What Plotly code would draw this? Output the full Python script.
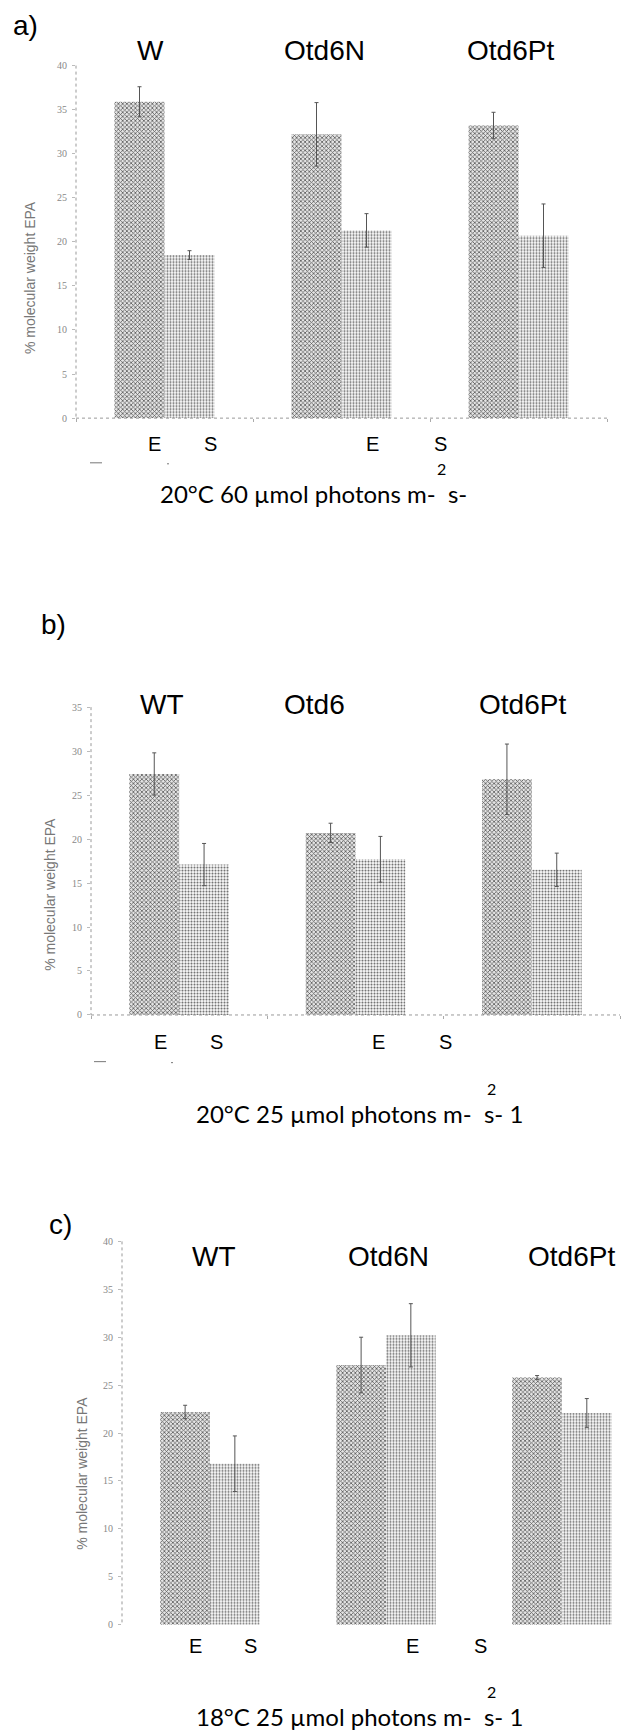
import plotly.graph_objects as go

W, H = 629, 1735

# ---------------- data ----------------
groups_a = ["W", "Otd6N", "Otd6Pt"]
groups_b = ["WT", "Otd6", "Otd6Pt"]
groups_c = ["WT", "Otd6N", "Otd6Pt"]
series_names = ["E", "S"]

a_E = [35.9, 32.2, 33.2]
a_E_err = [1.7, 3.6, 1.5]
a_S = [18.5, 21.3, 20.7]
a_S_err = [0.5, 1.9, 3.6]

b_E = [27.4, 20.7, 26.8]
b_E_err = [2.4, 1.1, 4.0]
b_S = [17.1, 17.7, 16.5]
b_S_err = [2.4, 2.6, 1.9]

c_E = [22.2, 27.1, 25.8]
c_E_err = [0.7, 2.9, 0.2]
c_S = [16.8, 30.2, 22.1]
c_S_err = [2.9, 3.3, 1.5]

yticks_40 = [0, 5, 10, 15, 20, 25, 30, 35, 40]
yticks_35 = [0, 5, 10, 15, 20, 25, 30, 35]

panel_letters = ["a)", "b)", "c)"]
captions = ["20°C 60 µmol photons m-  s-",
            "20°C 25 µmol photons m-  s- 1",
            "18°C 25 µmol photons m-  s- 1"]
y_title = "% molecular weight EPA"


def fx(px):
    return px / W


def fy(py):
    return 1 - py / H


# ---------------- layout geometry (pixels) ----------------
panels = [
    dict(groups=groups_a, E=a_E, Ee=a_E_err, S=a_S, Se=a_S_err,
         x0=76, x1=607, y0=60, y1=415, xr=[-0.5, 2.5], yr=[0, 40], yt=yticks_40, xline=True),
    dict(groups=groups_b, E=b_E, Ee=b_E_err, S=b_S, Se=b_S_err,
         x0=91, x1=620, y0=706, y1=1016, xr=[-0.5, 2.5], yr=[0, 35], yt=yticks_35, xline=True),
    dict(groups=groups_c, E=c_E, Ee=c_E_err, S=c_S, Se=c_S_err,
         x0=122, x1=629, y0=1244, y1=1630, xr=[-0.5, 2.381], yr=[0, 40], yt=yticks_40, xline=False),
]

fig = go.Figure()
layout = dict(
    width=W, height=H,
    margin=dict(l=0, r=0, t=0, b=0),
    paper_bgcolor="white", plot_bgcolor="white",
    showlegend=False,
    barmode="group", bargap=0.435, bargroupgap=0.0,
    font=dict(family="Liberation Sans, Arial, sans-serif", color="black"),
)

shapes = []
annotations = []

for i, p in enumerate(panels):
    xa = "x" if i == 0 else f"x{i+1}"
    ya = "y" if i == 0 else f"y{i+1}"
    xkey = "xaxis" if i == 0 else f"xaxis{i+1}"
    ykey = "yaxis" if i == 0 else f"yaxis{i+1}"

    fig.add_trace(go.Bar(
        x=p["groups"], y=p["E"], name=series_names[0], xaxis=xa, yaxis=ya,
        offsetgroup="E",
        marker=dict(color="white", line=dict(width=0),
                    pattern=dict(shape="x", size=3, solidity=0.45,
                                 fgcolor="#5a5a5a", bgcolor="#e4e4e4", fillmode="replace")),
        error_y=dict(type="data", array=p["Ee"], visible=True,
                     color="#555555", thickness=1, width=2),
    ))
    fig.add_trace(go.Bar(
        x=p["groups"], y=p["S"], name=series_names[1], xaxis=xa, yaxis=ya,
        offsetgroup="S",
        marker=dict(color="white", line=dict(width=0),
                    pattern=dict(shape=".", size=3, solidity=0.4,
                                 fgcolor="#6a6a6a", bgcolor="#ffffff", fillmode="replace")),
        error_y=dict(type="data", array=p["Se"], visible=True,
                     color="#555555", thickness=1, width=2),
    ))

    layout[xkey] = dict(
        domain=[fx(p["x0"]), fx(p["x1"])], anchor=ya,
        range=p["xr"], type="category",
        showticklabels=False, showgrid=False, zeroline=False, showline=False,
        ticks="outside" if p["xline"] else "", tickson="boundaries",
        ticklen=3, tickcolor="#aaaaaa", tickwidth=1,
    )
    layout[ykey] = dict(
        domain=[fy(p["y1"]), fy(p["y0"])], anchor=xa,
        range=p["yr"], tickvals=p["yt"],
        showgrid=False, zeroline=False, showline=False,
        ticks="outside", ticklen=3, tickcolor="#bbbbbb", tickwidth=1,
        tickfont=dict(size=10, color="#888888", family="Liberation Serif, serif"),
        ticklabelstandoff=3,
    )

    # dotted axis lines
    shapes.append(dict(type="line", xref="paper", yref="paper",
                       x0=fx(p["x0"]), x1=fx(p["x0"]), y0=fy(p["y0"]), y1=fy(p["y1"]),
                       line=dict(color="#999999", width=1, dash="dot")))
    if p["xline"]:
        shapes.append(dict(type="line", xref="paper", yref="paper",
                           x0=fx(p["x0"]), x1=fx(p["x1"]), y0=fy(p["y1"]), y1=fy(p["y1"]),
                           line=dict(color="#999999", width=1, dash="dot")))

# panel letters
for txt, (px, py) in zip(panel_letters, [(26, 20), (53, 623), (60, 1227)]):
    annotations.append(dict(text=txt, x=fx(px), y=fy(py), xref="paper", yref="paper",
                            showarrow=False, xanchor="center", yanchor="middle",
                            font=dict(size=28, family="Liberation Sans, Arial")))

# group labels
group_label_pos = [
    (groups_a, [150, 324, 510], 45),
    (groups_b, [162, 314, 522], 703),
    (groups_c, [214, 388, 571], 1259),
]
for names, xs, py in group_label_pos:
    for n, px in zip(names, xs):
        annotations.append(dict(text=n, x=fx(px), y=fy(py), xref="paper", yref="paper",
                                showarrow=False, xanchor="center", yanchor="middle",
                                font=dict(size=28, family="Liberation Sans, Arial")))

# E / S labels
es_pos = [
    ([154, 210, 372, 440], 441),
    ([160, 216, 378, 445], 1043),
    ([195, 250, 412, 480], 1651),
]
for xs, py in es_pos:
    for k, px in enumerate(xs):
        annotations.append(dict(text=series_names[k % 2], x=fx(px), y=fy(py),
                                xref="paper", yref="paper", showarrow=False,
                                xanchor="center", yanchor="middle",
                                font=dict(size=20, family="Liberation Sans, Arial")))

# y-axis titles
for px, py in [(30, 274), (50, 895), (82, 1478)]:
    annotations.append(dict(text=y_title, x=fx(px), y=fy(py), xref="paper", yref="paper",
                            showarrow=False, xanchor="center", yanchor="middle", textangle=-90,
                            font=dict(size=14, color="#777777", family="Liberation Sans, Arial")))

# captions with detached superscript 2
cap_pos = [((158, 491), (441, 466)), ((194, 1115), (491, 1090)), ((194, 1722), (491, 1697))]
for txt, ((cx, cy), (sx, sy)) in zip(captions, cap_pos):
    annotations.append(dict(text=txt, x=fx(cx), y=fy(cy), xref="paper", yref="paper",
                            showarrow=False, xanchor="left", yanchor="middle",
                            font=dict(size=24, family="Lato, Open Sans, sans-serif")))
    annotations.append(dict(text="2", x=fx(sx), y=fy(sy), xref="paper", yref="paper",
                            showarrow=False, xanchor="center", yanchor="middle",
                            font=dict(size=16, family="Lato, Open Sans, sans-serif")))

# small stray marks under the E/S rows
for (x0, x1, py) in [(90, 102, 460), (167, 169, 461), (94, 106, 1063), (171, 173, 1064)]:
    shapes.append(dict(type="line", xref="paper", yref="paper",
                       x0=fx(x0), x1=fx(x1), y0=fy(py), y1=fy(py),
                       line=dict(color="#777777", width=1)))

layout["shapes"] = shapes
layout["annotations"] = annotations
fig.update_layout(**layout)

fig.write_html("out.html")
